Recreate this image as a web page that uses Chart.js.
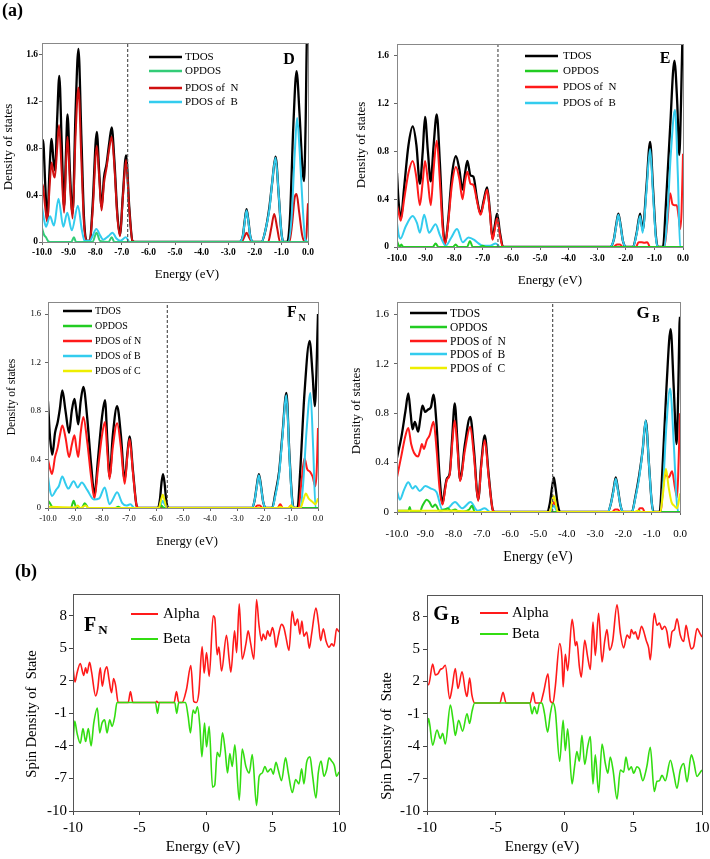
<!DOCTYPE html>
<html>
<head>
<meta charset="utf-8">
<title>DOS and spin density</title>
<script src="https://cdn.jsdelivr.net/npm/chart.js@4.4.1/dist/chart.umd.min.js"></script>
<style>
  body { margin: 0; background: #fff; }
  #wrap { position: relative; width: 710px; height: 859px; }
  #wrap canvas { position: absolute; left: 0; top: 0; }
</style>
</head>
<body>
<div id="wrap">
  <canvas id="pD" width="710" height="859"></canvas>
  <canvas id="pE" width="710" height="859"></canvas>
  <canvas id="pF" width="710" height="859"></canvas>
  <canvas id="pG" width="710" height="859"></canvas>
  <canvas id="sF" width="710" height="859"></canvas>
  <canvas id="sG" width="710" height="859"></canvas>
</div>
<script>
// tick labels
const dosEnergyTicks = [-10, -9, -8, -7, -6, -5, -4, -3, -2, -1, 0];
const dosTicks = [0, 0.4, 0.8, 1.2, 1.6];
const spinEnergyTicks = [-10, -5, 0, 5, 10];
const spinTicks = [-10, -7, -4, -1, 2, 5, 8];

// dashed reference line (eV) for each DOS panel
const fermiD = -6.78, fermiE = -6.47, fermiF = -5.58, fermiG = -4.5;

// ---- panel D : [energy, DOS]
const dTdos = [[-10,0.82],[-9.96,0.87],[-9.88,0.5],[-9.8,0.18],[-9.72,0.6],[-9.64,0.88],[-9.57,0.7],[-9.51,0.61],[-9.43,1.05],[-9.35,1.42],[-9.26,0.85],[-9.17,0.3],[-9.1,0.75],[-9.04,1.09],[-8.95,0.6],[-8.85,0.24],[-8.74,1.1],[-8.63,1.65],[-8.52,0.9],[-8.42,0.2],[-8.32,0.01],[-8.2,0.01],[-8.1,0.3],[-7.94,0.94],[-7.85,0.6],[-7.76,0.3],[-7.67,0.55],[-7.57,0.67],[-7.47,0.85],[-7.38,0.98],[-7.28,0.7],[-7.17,0.25],[-7.07,0.06],[-6.96,0.4],[-6.84,0.74],[-6.72,0.3],[-6.6,0.01],[-6.5,0],[-2.6,0],[-2.45,0.05],[-2.38,0.18],[-2.31,0.28],[-2.24,0.18],[-2.17,0.05],[-2.05,0],[-1.75,0],[-1.6,0.1],[-1.45,0.3],[-1.35,0.5],[-1.22,0.73],[-1.1,0.4],[-1.0,0.08],[-0.92,0],[-0.78,0],[-0.68,0.2],[-0.55,1.0],[-0.43,1.46],[-0.32,1.1],[-0.2,0.6],[-0.15,0.52],[-0.09,1.0],[-0.04,1.75],[0,1.8]];
const dOpdos = [[-10,0.12],[-9.92,0.06],[-9.85,0.04],[-9.78,0.01],[-9.7,0],[-8.9,0],[-8.8,0.04],[-8.72,0],[-8.1,0],[-7.95,0.08],[-7.82,0.01],[-7.5,0],[-7.38,0.04],[-7.28,0],[0,0]];
const dPdosN = [[-10,0.5],[-9.96,0.47],[-9.88,0.3],[-9.8,0.17],[-9.72,0.45],[-9.64,0.68],[-9.57,0.58],[-9.52,0.55],[-9.43,0.8],[-9.36,1.0],[-9.26,0.6],[-9.17,0.25],[-9.1,0.65],[-9.04,0.9],[-8.95,0.5],[-8.85,0.2],[-8.74,0.9],[-8.63,1.32],[-8.52,0.7],[-8.42,0.15],[-8.33,0.01],[-8.2,0.01],[-8.1,0.25],[-7.94,0.82],[-7.85,0.55],[-7.76,0.27],[-7.67,0.5],[-7.57,0.64],[-7.47,0.8],[-7.38,0.9],[-7.28,0.65],[-7.17,0.22],[-7.07,0.05],[-6.96,0.38],[-6.84,0.7],[-6.72,0.28],[-6.6,0.01],[-6.5,0],[-2.5,0],[-2.4,0.04],[-2.31,0.08],[-2.22,0.04],[-2.1,0],[-1.5,0],[-1.38,0.12],[-1.27,0.24],[-1.16,0.12],[-1.05,0],[-0.7,0],[-0.6,0.15],[-0.5,0.38],[-0.43,0.41],[-0.33,0.25],[-0.22,0.06],[-0.12,0],[-0.06,0.05],[-0.02,0.25],[0,0.33]];
const dPdosB = [[-10,0.3],[-9.93,0.2],[-9.85,0.13],[-9.7,0.22],[-9.55,0.14],[-9.38,0.37],[-9.2,0.13],[-9.05,0.25],[-8.88,0.1],[-8.65,0.31],[-8.5,0.1],[-8.4,0.01],[-8.2,0.01],[-8.1,0.05],[-7.96,0.11],[-7.8,0.05],[-7.7,0.02],[-7.5,0.05],[-7.35,0.08],[-7.2,0.03],[-7.05,0.01],[-6.85,0.04],[-6.7,0],[-2.6,0],[-2.45,0.05],[-2.38,0.17],[-2.31,0.27],[-2.24,0.17],[-2.17,0.05],[-2.05,0],[-1.75,0],[-1.6,0.1],[-1.45,0.28],[-1.35,0.5],[-1.22,0.72],[-1.1,0.4],[-1.0,0.08],[-0.92,0],[-0.75,0],[-0.62,0.2],[-0.5,0.75],[-0.41,1.06],[-0.32,0.8],[-0.2,0.3],[-0.1,0.02],[0,0]];

// ---- panel E
const eTdos = [[-10,0.62],[-9.95,0.4],[-9.87,0.24],[-9.75,0.5],[-9.6,0.85],[-9.45,1.01],[-9.32,0.85],[-9.2,0.53],[-9.1,0.8],[-9.02,1.09],[-8.92,0.8],[-8.82,0.55],[-8.72,0.85],[-8.61,1.11],[-8.5,0.7],[-8.4,0.2],[-8.32,0.03],[-8.22,0.2],[-8.08,0.6],[-7.94,0.76],[-7.82,0.65],[-7.71,0.48],[-7.62,0.62],[-7.54,0.72],[-7.43,0.6],[-7.33,0.59],[-7.2,0.4],[-7.08,0.28],[-6.96,0.4],[-6.85,0.5],[-6.75,0.3],[-6.66,0.07],[-6.58,0.18],[-6.5,0.28],[-6.4,0.12],[-6.29,0],[-2.55,0],[-2.42,0.06],[-2.34,0.18],[-2.26,0.28],[-2.18,0.18],[-2.1,0.05],[-1.98,0],[-1.75,0],[-1.62,0.12],[-1.5,0.28],[-1.41,0.14],[-1.28,0.5],[-1.15,0.88],[-1.05,0.5],[-0.95,0.1],[-0.88,0],[-0.7,0],[-0.6,0.35],[-0.45,1.0],[-0.3,1.56],[-0.2,1.2],[-0.13,0.77],[-0.07,1.2],[-0.02,1.75],[0,1.8]];
const eOpdos = [[-10,0.05],[-9.95,0.02],[-9.9,0],[-9.85,0.02],[-9.78,0],[-8.75,0],[-8.65,0.03],[-8.55,0],[-8.05,0],[-7.95,0.02],[-7.85,0],[-7.55,0],[-7.45,0.05],[-7.35,0],[-7.1,0],[-7.0,0.01],[-6.9,0],[0,0]];
const ePdosN = [[-10,0.35],[-9.95,0.3],[-9.87,0.22],[-9.75,0.4],[-9.6,0.62],[-9.45,0.72],[-9.32,0.58],[-9.2,0.35],[-9.1,0.55],[-9.02,0.72],[-8.92,0.55],[-8.82,0.35],[-8.72,0.65],[-8.61,0.89],[-8.5,0.55],[-8.4,0.15],[-8.32,0.02],[-8.22,0.18],[-8.08,0.52],[-7.94,0.67],[-7.82,0.57],[-7.71,0.4],[-7.62,0.55],[-7.54,0.63],[-7.43,0.53],[-7.33,0.52],[-7.2,0.38],[-7.08,0.27],[-6.96,0.38],[-6.85,0.48],[-6.75,0.28],[-6.66,0.06],[-6.58,0.15],[-6.5,0.24],[-6.4,0.1],[-6.3,0],[-2.45,0],[-2.3,0.02],[-2.2,0.02],[-2.1,0],[-1.65,0],[-1.55,0.04],[-1.45,0.04],[-1.35,0.035],[-1.25,0.04],[-1.15,0],[-0.65,0],[-0.55,0.2],[-0.45,0.45],[-0.37,0.36],[-0.3,0.35],[-0.22,0.35],[-0.15,0.25],[-0.1,0.15],[-0.05,0.3],[0,0.78]];
const ePdosB = [[-10,0.2],[-9.94,0.1],[-9.88,0.07],[-9.7,0.17],[-9.45,0.26],[-9.3,0.2],[-9.2,0.12],[-9.05,0.27],[-8.88,0.12],[-8.65,0.19],[-8.5,0.1],[-8.3,0.01],[-8.1,0.08],[-7.9,0.15],[-7.7,0.04],[-7.5,0.08],[-7.3,0.06],[-7.15,0.03],[-7.0,0.01],[-6.75,0.01],[-6.55,0.03],[-6.4,0],[-2.55,0],[-2.42,0.06],[-2.34,0.17],[-2.26,0.27],[-2.18,0.17],[-2.1,0.05],[-1.98,0],[-1.75,0],[-1.62,0.11],[-1.5,0.26],[-1.41,0.12],[-1.28,0.46],[-1.15,0.82],[-1.05,0.45],[-0.95,0.08],[-0.88,0],[-0.65,0],[-0.55,0.25],[-0.42,0.8],[-0.28,1.15],[-0.18,0.6],[-0.1,0],[0,0]];

// ---- panel F_N
const fTdos = [[-10,0.88],[-9.93,0.6],[-9.84,0.44],[-9.74,0.62],[-9.64,0.71],[-9.56,0.82],[-9.47,0.97],[-9.35,0.8],[-9.22,0.62],[-9.12,0.8],[-9.02,0.9],[-8.95,0.8],[-8.88,0.69],[-8.79,0.88],[-8.69,1.0],[-8.55,0.75],[-8.4,0.35],[-8.28,0.11],[-8.15,0.4],[-8.0,0.75],[-7.89,0.89],[-7.8,0.55],[-7.72,0.26],[-7.6,0.6],[-7.44,0.84],[-7.3,0.6],[-7.16,0.23],[-7.06,0.45],[-6.98,0.59],[-6.85,0.3],[-6.72,0.02],[-6.65,0],[-5.95,0],[-5.85,0.08],[-5.8,0.2],[-5.74,0.28],[-5.68,0.2],[-5.62,0.06],[-5.52,0],[-2.45,0],[-2.35,0.06],[-2.27,0.18],[-2.19,0.28],[-2.11,0.18],[-2.03,0.05],[-1.92,0],[-1.7,0],[-1.58,0.12],[-1.44,0.3],[-1.32,0.6],[-1.17,0.95],[-1.06,0.45],[-0.96,0.08],[-0.9,0],[-0.76,0],[-0.66,0.3],[-0.5,0.95],[-0.31,1.38],[-0.2,1.1],[-0.12,0.84],[-0.06,1.1],[-0.02,1.45],[0,1.6]];
const fOpdos = [[-10,0.06],[-9.93,0.04],[-9.85,0.01],[-9.78,0],[-9.15,0],[-9.05,0.06],[-8.95,0],[-8.75,0],[-8.64,0.04],[-8.5,0],[-7.5,0],[-7.4,0.01],[-7.3,0],[-5.9,0],[-5.8,0.02],[-5.7,0],[0,0]];
const fPdosN = [[-10,0.4],[-9.93,0.33],[-9.85,0.28],[-9.74,0.42],[-9.64,0.5],[-9.56,0.6],[-9.47,0.68],[-9.35,0.58],[-9.22,0.42],[-9.12,0.52],[-9.02,0.6],[-8.95,0.5],[-8.88,0.42],[-8.79,0.62],[-8.69,0.75],[-8.55,0.55],[-8.4,0.25],[-8.28,0.08],[-8.15,0.32],[-8.0,0.6],[-7.89,0.71],[-7.8,0.45],[-7.72,0.24],[-7.6,0.5],[-7.44,0.7],[-7.3,0.5],[-7.16,0.2],[-7.06,0.43],[-6.98,0.57],[-6.85,0.28],[-6.72,0.02],[-6.65,0],[-2.35,0],[-2.25,0.02],[-2.15,0.02],[-2.05,0],[-1.5,0],[-1.4,0.03],[-1.3,0],[-1.1,0],[-1.0,0.02],[-0.9,0],[-0.72,0],[-0.62,0.2],[-0.5,0.41],[-0.4,0.32],[-0.3,0.3],[-0.2,0.26],[-0.1,0.18],[-0.05,0.3],[0,0.66]];
const fPdosB = [[-10,0.26],[-9.93,0.15],[-9.85,0.1],[-9.7,0.15],[-9.6,0.18],[-9.47,0.26],[-9.35,0.2],[-9.25,0.16],[-9.05,0.22],[-8.9,0.17],[-8.75,0.21],[-8.55,0.15],[-8.3,0.07],[-8.1,0.08],[-7.9,0.17],[-7.72,0.03],[-7.6,0.07],[-7.44,0.13],[-7.25,0.04],[-7.1,0.02],[-6.95,0.03],[-6.8,0],[-5.9,0],[-5.8,0.04],[-5.75,0.06],[-5.68,0.03],[-5.6,0],[-2.45,0],[-2.35,0.06],[-2.27,0.17],[-2.19,0.27],[-2.11,0.17],[-2.03,0.05],[-1.92,0],[-1.7,0],[-1.58,0.1],[-1.44,0.28],[-1.32,0.58],[-1.17,0.93],[-1.06,0.43],[-0.96,0.06],[-0.9,0],[-0.65,0],[-0.55,0.2],[-0.42,0.65],[-0.28,0.95],[-0.18,0.5],[-0.09,0],[0,0]];
const fPdosC = [[-10,0.01],[-9,0.005],[-8.9,0.02],[-8.8,0],[-8.6,0.02],[-8.5,0],[-5.9,0],[-5.82,0.06],[-5.75,0.11],[-5.68,0.06],[-5.6,0],[-1.5,0],[-1.4,0.01],[-1.3,0],[-1.1,0],[-1.0,0.02],[-0.9,0],[-0.65,0],[-0.55,0.06],[-0.45,0.12],[-0.35,0.08],[-0.2,0.05],[-0.1,0.03],[0,0.08]];

// ---- panel G_B
const gTdos = [[-10,0.44],[-9.85,0.6],[-9.7,0.82],[-9.6,0.96],[-9.52,0.8],[-9.45,0.67],[-9.37,0.73],[-9.25,0.65],[-9.18,0.75],[-9.1,0.86],[-9.0,0.81],[-8.9,0.83],[-8.8,0.85],[-8.71,0.95],[-8.6,0.7],[-8.5,0.3],[-8.39,0.07],[-8.3,0.2],[-8.24,0.27],[-8.14,0.31],[-8.05,0.6],[-7.96,0.88],[-7.86,0.55],[-7.77,0.26],[-7.6,0.55],[-7.41,0.77],[-7.28,0.5],[-7.13,0.1],[-7.02,0.4],[-6.9,0.62],[-6.76,0.3],[-6.62,0.02],[-6.55,0],[-4.7,0],[-4.6,0.07],[-4.52,0.2],[-4.46,0.28],[-4.4,0.2],[-4.32,0.06],[-4.22,0],[-2.55,0],[-2.45,0.06],[-2.35,0.18],[-2.27,0.28],[-2.19,0.18],[-2.1,0.05],[-2.0,0],[-1.7,0],[-1.58,0.12],[-1.44,0.3],[-1.32,0.5],[-1.21,0.74],[-1.1,0.4],[-1.0,0.08],[-0.93,0],[-0.72,0],[-0.62,0.35],[-0.48,1.0],[-0.33,1.48],[-0.22,1.0],[-0.12,0.55],[-0.06,1.0],[-0.02,1.5],[0,1.58]];
const gOpdos = [[-10,0.01],[-9.6,0.01],[-9.55,0.04],[-9.5,0],[-9.2,0],[-9.1,0.05],[-8.95,0.1],[-8.85,0.08],[-8.75,0.04],[-8.65,0.06],[-8.5,0.01],[-8.3,0.02],[-8.2,0.03],[-8.1,0.01],[-7.95,0.02],[-7.8,0],[-7.45,0.02],[-7.35,0.05],[-7.25,0],[-1.5,0],[-1.45,0.01],[-1.4,0],[0,0]];
const gPdosN = [[-10,0.28],[-9.85,0.45],[-9.7,0.62],[-9.6,0.68],[-9.5,0.55],[-9.4,0.48],[-9.25,0.45],[-9.18,0.5],[-9.12,0.55],[-9.05,0.51],[-8.95,0.58],[-8.85,0.62],[-8.71,0.73],[-8.6,0.5],[-8.5,0.2],[-8.39,0.06],[-8.3,0.18],[-8.24,0.26],[-8.14,0.3],[-8.05,0.55],[-7.96,0.74],[-7.86,0.5],[-7.77,0.25],[-7.6,0.5],[-7.41,0.69],[-7.28,0.45],[-7.13,0.09],[-7.02,0.38],[-6.9,0.58],[-6.76,0.28],[-6.62,0.02],[-6.55,0],[-4.6,0],[-4.52,0.05],[-4.46,0.08],[-4.4,0.05],[-4.32,0],[-2.4,0],[-2.3,0.02],[-2.2,0.02],[-2.1,0],[-1.5,0],[-1.42,0.03],[-1.32,0.03],[-1.25,0],[-0.68,0],[-0.6,0.2],[-0.5,0.3],[-0.4,0.28],[-0.28,0.33],[-0.18,0.2],[-0.1,0.12],[-0.05,0.4],[0,0.8]];
const gPdosB = [[-10,0.17],[-9.9,0.1],[-9.75,0.18],[-9.6,0.24],[-9.45,0.19],[-9.35,0.21],[-9.2,0.17],[-9.0,0.21],[-8.8,0.19],[-8.6,0.16],[-8.4,0.02],[-8.2,0.03],[-7.95,0.08],[-7.7,0.03],[-7.4,0.08],[-7.15,0.01],[-6.9,0.03],[-6.7,0],[-4.6,0],[-4.5,0.04],[-4.45,0.05],[-4.38,0.02],[-4.3,0],[-2.55,0],[-2.45,0.06],[-2.35,0.17],[-2.27,0.27],[-2.19,0.17],[-2.1,0.05],[-2.0,0],[-1.7,0],[-1.58,0.11],[-1.44,0.28],[-1.32,0.5],[-1.21,0.74],[-1.1,0.4],[-1.0,0.08],[-0.93,0],[-0.7,0],[-0.6,0.2],[-0.48,0.7],[-0.35,1.0],[-0.22,0.55],[-0.12,0.1],[-0.06,0],[0,0]];
const gPdosC = [[-10,0.01],[-8.0,0.01],[-7.0,0],[-4.6,0],[-4.52,0.08],[-4.46,0.13],[-4.4,0.08],[-4.32,0],[-1.6,0],[-1.5,0.01],[-1.4,0],[-0.7,0],[-0.6,0.15],[-0.5,0.35],[-0.4,0.2],[-0.3,0.08],[-0.2,0.05],[-0.1,0.03],[0,0.15]];

// ---- spin density (b)
const fnAlpha = [[-10,3.2],[-9.85,1.9],[-9.7,2.7],[-9.45,3.6],[-9.2,2.5],[-9.05,3.2],[-8.95,2.7],[-8.75,3.7],[-8.6,2.8],[-8.3,0.6],[-8.15,1.2],[-7.95,3.2],[-7.8,1.5],[-7.6,2.9],[-7.45,3.3],[-7.3,2.2],[-7.1,0.9],[-6.95,2.2],[-6.8,1.6],[-6.6,0],[-5.85,0],[-5.68,1.0],[-5.5,0],[-3.8,0],[-3.7,0.1],[-3.6,0],[-2.4,0],[-2.22,1.0],[-2.05,0],[-1.8,0],[-1.47,1.2],[-1.14,3.4],[-0.92,0.1],[-0.72,0],[-0.54,0.9],[-0.29,5.15],[-0.14,2.7],[0.04,4.6],[0.24,2.4],[0.54,8.0],[0.66,7.8],[0.84,4.4],[0.97,5.1],[1.17,2.9],[1.54,6.2],[1.74,4.0],[1.87,2.8],[2.15,6.6],[2.3,4.6],[2.5,9.1],[2.72,4.0],[3.0,5.4],[3.17,6.6],[3.35,5.5],[3.6,4.0],[3.8,9.5],[3.98,7.2],[4.18,5.7],[4.3,6.3],[4.48,5.8],[4.63,6.6],[4.8,6.1],[5.0,6.9],[5.13,6.3],[5.26,5.1],[5.43,6.1],[5.68,7.2],[5.86,6.9],[6.0,6.1],[6.24,4.8],[6.48,8.4],[6.69,7.1],[6.89,7.7],[7.06,6.3],[7.21,7.5],[7.36,6.1],[7.57,6.5],[7.77,5.0],[7.94,6.3],[8.27,8.7],[8.47,7.2],[8.62,5.7],[8.82,6.8],[9.02,5.7],[9.25,5.1],[9.45,5.4],[9.62,5.2],[9.82,6.8],[10,6.5]];
const fnBeta = [[-10,-3.8],[-9.87,-1.7],[-9.7,-2.8],[-9.45,-3.75],[-9.25,-2.4],[-9.05,-3.6],[-8.85,-2.4],[-8.64,-4.0],[-8.44,-1.9],[-8.17,-0.5],[-7.99,-2.8],[-7.82,-1.9],[-7.62,-1.6],[-7.44,-2.8],[-7.24,-1.6],[-7.06,-2.2],[-6.86,-1.3],[-6.69,0],[-3.8,0],[-3.65,-1.0],[-3.5,0],[-2.35,0],[-2.2,-1.0],[-2.05,0],[-1.54,0],[-1.34,-1.3],[-1.17,-2.8],[-0.97,-0.7],[-0.82,-1.0],[-0.64,-0.4],[-0.46,-2.2],[-0.31,-5.0],[-0.11,-1.9],[0.04,-4.1],[0.24,-2.2],[0.49,-7.8],[0.66,-7.6],[0.84,-4.6],[1.04,-5.0],[1.24,-2.8],[1.44,-4.4],[1.62,-6.5],[1.79,-4.7],[1.97,-5.9],[2.17,-3.9],[2.5,-9.0],[2.72,-4.3],[3.0,-5.9],[3.25,-6.5],[3.48,-4.8],[3.8,-9.5],[4.0,-6.8],[4.23,-6.5],[4.43,-5.9],[4.63,-6.4],[4.88,-6.1],[5.06,-6.6],[5.26,-5.5],[5.43,-6.2],[5.68,-7.2],[5.98,-5.1],[6.19,-6.5],[6.49,-8.3],[6.74,-7.1],[6.99,-7.5],[7.19,-6.1],[7.36,-7.5],[7.57,-5.5],[7.82,-5.0],[7.99,-6.5],[8.27,-8.8],[8.44,-6.5],[8.65,-5.4],[8.87,-6.8],[9.07,-6.2],[9.25,-5.1],[9.45,-5.4],[9.65,-5.8],[9.82,-6.8],[10,-6.4]];
const gbAlpha = [[-10,1.8],[-9.88,1.7],[-9.59,3.6],[-9.39,2.6],[-9.2,2.7],[-9.03,3.1],[-8.86,3.2],[-8.67,3.5],[-8.35,0.4],[-8.18,1.35],[-7.94,3.2],[-7.75,1.35],[-7.45,2.9],[-7.21,1.1],[-7.09,0.6],[-6.9,2.3],[-6.73,0.7],[-6.53,0],[-4.7,0],[-4.47,1.0],[-4.25,0],[-2.5,0],[-2.29,1.0],[-2.12,0],[-1.76,0],[-1.52,1.0],[-1.2,2.7],[-1.03,0.2],[-0.84,0],[-0.67,1.5],[-0.35,5.5],[-0.18,4.0],[-0.1,1.5],[0.06,4.5],[0.23,3.0],[0.55,7.75],[0.67,6.8],[0.79,5.3],[0.9,5.7],[1.08,3.4],[1.22,2.4],[1.47,5.8],[1.68,4.3],[1.88,3.1],[2.07,7.5],[2.24,4.4],[2.48,8.3],[2.73,3.8],[2.92,5.7],[3.09,6.8],[3.28,4.9],[3.5,5.7],[3.82,9.1],[4.06,6.5],[4.3,5.1],[4.55,6.3],[4.75,6.0],[4.86,6.8],[5.03,6.4],[5.15,6.6],[5.35,5.9],[5.6,7.1],[5.77,6.6],[5.94,5.8],[6.12,5.1],[6.24,4.0],[6.53,8.3],[6.73,7.2],[6.9,7.4],[7.09,6.8],[7.28,7.1],[7.45,6.6],[7.64,5.1],[7.82,6.6],[8.0,6.8],[8.18,7.8],[8.42,6.3],[8.67,5.7],[8.84,7.2],[9.03,6.0],[9.22,5.0],[9.39,5.2],[9.64,6.9],[9.83,6.5],[10,6.1]];
const gbBeta = [[-10,-2.4],[-9.88,-1.45],[-9.59,-3.9],[-9.27,-2.5],[-9.03,-3.3],[-8.86,-2.8],[-8.67,-3.8],[-8.3,-0.2],[-8.1,-1.6],[-7.94,-3.0],[-7.7,-1.6],[-7.41,-2.6],[-7.09,-1.0],[-6.9,-1.9],[-6.73,-0.8],[-6.53,0],[-2.53,0],[-2.36,-1.0],[-2.19,-0.35],[-2.0,-1.0],[-1.81,0],[-1.64,0],[-1.45,-1.0],[-1.23,-2.7],[-1.03,-1.0],[-0.84,0],[-0.67,-0.7],[-0.35,-5.4],[-0.1,-1.6],[0.06,-4.4],[0.23,-2.4],[0.55,-7.5],[0.73,-5.9],[0.9,-4.5],[1.08,-5.4],[1.27,-3.0],[1.47,-5.7],[1.68,-4.1],[1.88,-3.1],[2.07,-7.5],[2.24,-4.8],[2.48,-8.3],[2.73,-3.8],[2.97,-5.6],[3.15,-6.5],[3.33,-5.0],[3.53,-6.2],[3.82,-8.9],[4.06,-6.2],[4.3,-6.4],[4.47,-5.0],[4.67,-6.2],[4.86,-5.9],[5.03,-6.5],[5.27,-5.9],[5.45,-6.1],[5.7,-7.2],[5.9,-6.4],[6.0,-5.8],[6.24,-4.1],[6.53,-8.2],[6.73,-7.25],[6.9,-7.2],[7.09,-6.7],[7.33,-7.2],[7.7,-5.3],[7.94,-6.5],[8.18,-7.9],[8.42,-6.2],[8.67,-5.6],[8.91,-7.3],[9.22,-4.8],[9.39,-5.4],[9.64,-6.8],[9.83,-6.5],[10,-6.2]];

const SERIF = "'Liberation Serif', 'Times New Roman', serif";
const BLACK = '#000000', RED = '#ff1a1a', DARKRED = '#d01010', CYAN = '#33ccee', GREEN = '#22cc22', TEAL = '#33cc77', YELLOW = '#eeee00';

const toXY = arr => arr.map(([x, y]) => ({ x, y }));
const ds = (label, pts, color, order, width) => ({
  label, data: toXY(pts), borderColor: color, borderWidth: width || 2, order, fill: false
});
const fermiSet = e => ({
  label: '', skipLegend: true, data: [{ x: e, y: 0 }, { x: e, y: 1.7 }],
  borderColor: '#555', borderWidth: 1.2, borderDash: [3, 2], order: 0, cubicInterpolationMode: 'default'
});

// text, legend and frame drawn on top of each chart
const decor = {};
Chart.register({
  id: 'decor',
  afterDraw(chart) {
    const d = decor[chart.canvas.id];
    if (!d) return;
    const ctx = chart.ctx, a = chart.chartArea;
    ctx.save();
    ctx.strokeStyle = d.frame; ctx.lineWidth = 1;
    ctx.strokeRect(Math.round(a.left) + 0.5, Math.round(a.top) + 0.5, Math.round(a.right - a.left), Math.round(a.bottom - a.top));
    ctx.fillStyle = '#000';
    ctx.textBaseline = 'middle';
    d.texts.forEach(t => {
      ctx.font = t.f + ' ' + SERIF;
      ctx.textAlign = t.align || 'center';
      ctx.save();
      ctx.translate(t.x, t.y);
      if (t.rot) ctx.rotate(-Math.PI / 2);
      ctx.fillText(t.t, 0, 0);
      ctx.restore();
    });
    const L = d.legend;
    ctx.font = L.f + ' ' + SERIF;
    ctx.textAlign = 'left';
    chart.data.datasets.filter(s => !s.skipLegend).forEach((s, i) => {
      const y = L.rows[i];
      ctx.strokeStyle = s.borderColor; ctx.lineWidth = L.w || 2.5; ctx.setLineDash([]);
      ctx.beginPath(); ctx.moveTo(L.x1, y); ctx.lineTo(L.x2, y); ctx.stroke();
      ctx.fillText(s.label, L.xt, y + 0.5);
    });
    ctx.restore();
  }
});

function makeChart(id, c) {
  const Wy = 40, Hx = 30;
  const tickFont = { family: SERIF, size: c.font.size, weight: c.font.weight || 'normal' };
  return new Chart(document.getElementById(id), {
    type: 'line',
    data: { datasets: c.datasets },
    options: {
      responsive: false, animation: false, devicePixelRatio: 1,
      layout: { padding: { left: c.box.l - Wy, top: c.box.t, right: 710 - c.box.r, bottom: 859 - c.box.b - Hx } },
      plugins: { legend: { display: false }, tooltip: { enabled: false } },
      elements: { point: { radius: 0 }, line: { cubicInterpolationMode: 'monotone' } },
      scales: {
        x: {
          type: 'linear', min: c.x.min, max: c.x.max,
          afterFit(a) { a.height = Hx; a.paddingLeft = 0; a.paddingRight = 0; },
          afterBuildTicks(a) { a.ticks = c.x.ticks.map(v => ({ value: v })); },
          ticks: { font: tickFont, color: '#000', padding: c.pad.x, maxRotation: 0, autoSkip: false, callback: c.x.fmt },
          grid: { drawOnChartArea: false, tickLength: c.tl, color: c.axis },
          border: { color: c.axis }
        },
        y: {
          min: c.y.min, max: c.y.max,
          afterFit(a) { a.width = Wy; a.paddingTop = 0; a.paddingBottom = 0; },
          afterBuildTicks(a) { a.ticks = c.y.ticks.map(v => ({ value: v })); },
          ticks: { font: tickFont, color: '#000', padding: c.pad.y, autoSkip: false, callback: c.y.fmt },
          grid: { drawOnChartArea: false, tickLength: c.tl, color: c.axis },
          border: { color: c.axis }
        }
      }
    }
  });
}

const dosX = { min: -10, max: 0, ticks: dosEnergyTicks, fmt: v => v.toFixed(1) };
const dosY = { min: 0, max: 1.7, ticks: dosTicks, fmt: v => (v === 0 ? '0' : v.toFixed(1)) };
const spinX = { min: -10, max: 10, ticks: spinEnergyTicks, fmt: v => String(v) };
const spinY = { min: -10, max: 10, ticks: spinTicks, fmt: v => String(v) };

// ---------- D
decor.pD = {
  frame: '#888',
  texts: [
    { t: '(a)', x: 2, y: 11, f: 'bold 18px', align: 'left' },
    { t: 'Density of states', x: 9, y: 147, f: '13px', rot: true },
    { t: 'Energy (eV)', x: 187, y: 275, f: '13px' },
    { t: 'D', x: 289, y: 60, f: 'bold 16px' }
  ],
  legend: { x1: 149, x2: 182, xt: 185, rows: [57, 71, 88, 102], f: '11px' }
};
makeChart('pD', {
  box: { l: 42, t: 43, r: 308, b: 242 }, x: dosX, y: dosY,
  font: { size: 9.5, weight: 'bold' }, pad: { x: 2, y: 1 }, tl: 3, axis: '#666',
  datasets: [
    ds('TDOS', dTdos, BLACK, 5, 2.3),
    ds('OPDOS', dOpdos, TEAL, 2),
    ds('PDOS of  N', dPdosN, DARKRED, 4),
    ds('PDOS of  B', dPdosB, CYAN, 3),
    fermiSet(fermiD)
  ]
});

// ---------- E
decor.pE = {
  frame: '#888',
  texts: [
    { t: 'Density of states', x: 362, y: 145, f: '13px', rot: true },
    { t: 'Energy (eV)', x: 550, y: 281, f: '13px' },
    { t: 'E', x: 665, y: 59, f: 'bold 16px' }
  ],
  legend: { x1: 525, x2: 558, xt: 563, rows: [56, 71, 87, 103], f: '11px' }
};
makeChart('pE', {
  box: { l: 397, t: 44, r: 683, b: 247 }, x: dosX, y: dosY,
  font: { size: 9.5, weight: 'bold' }, pad: { x: 2.5, y: 5 }, tl: 3, axis: '#666',
  datasets: [
    ds('TDOS', eTdos, BLACK, 5, 2.3),
    ds('OPDOS', eOpdos, GREEN, 2),
    ds('PDOS of  N', ePdosN, RED, 4),
    ds('PDOS of  B', ePdosB, CYAN, 3),
    fermiSet(fermiE)
  ]
});

// ---------- F_N
decor.pF = {
  frame: '#888',
  texts: [
    { t: 'Density of states', x: 12, y: 397, f: '11.5px', rot: true },
    { t: 'Energy (eV)', x: 187, y: 542, f: '12.5px' },
    { t: 'F', x: 292, y: 313, f: 'bold 16px' },
    { t: 'N', x: 302, y: 318, f: 'bold 10px' }
  ],
  legend: { x1: 63, x2: 92, xt: 95, rows: [311, 326, 341, 356, 371], f: '10px' }
};
makeChart('pF', {
  box: { l: 48, t: 302, r: 318, b: 508 }, x: dosX, y: dosY,
  font: { size: 8.5 }, pad: { x: 3, y: 4 }, tl: 3, axis: '#666',
  datasets: [
    ds('TDOS', fTdos, BLACK, 5, 2.3),
    ds('OPDOS', fOpdos, GREEN, 2),
    ds('PDOS of N', fPdosN, RED, 4),
    ds('PDOS of B', fPdosB, CYAN, 3),
    ds('PDOS of C', fPdosC, YELLOW, 1),
    fermiSet(fermiF)
  ]
});

// ---------- G_B
decor.pG = {
  frame: '#888',
  texts: [
    { t: 'Density of states', x: 357, y: 411, f: '13px', rot: true },
    { t: 'Energy (eV)', x: 538, y: 557, f: '14px' },
    { t: 'G', x: 643, y: 314, f: 'bold 17px' },
    { t: 'B', x: 656, y: 319, f: 'bold 11px' }
  ],
  legend: { x1: 410, x2: 447, xt: 450, rows: [313, 327, 341, 354, 368], f: '11.5px' }
};
makeChart('pG', {
  box: { l: 397, t: 302, r: 680, b: 512 }, x: dosX, y: dosY,
  font: { size: 11 }, pad: { x: 13, y: 5 }, tl: 3, axis: '#666',
  datasets: [
    ds('TDOS', gTdos, BLACK, 5, 2.3),
    ds('OPDOS', gOpdos, GREEN, 2),
    ds('PDOS of  N', gPdosN, RED, 4),
    ds('PDOS of  B', gPdosB, CYAN, 3),
    ds('PDOS of  C', gPdosC, YELLOW, 1),
    fermiSet(fermiG)
  ]
});

// ---------- spin F_N
decor.sF = {
  frame: '#555',
  texts: [
    { t: '(b)', x: 15, y: 572, f: 'bold 18px', align: 'left' },
    { t: 'Spin Density of  State', x: 32, y: 714, f: '14.5px', rot: true },
    { t: 'Energy (eV)', x: 203, y: 847, f: '15px' },
    { t: 'F', x: 90, y: 626, f: 'bold 20px' },
    { t: 'N', x: 103, y: 631, f: 'bold 13px' }
  ],
  legend: { x1: 131, x2: 158, xt: 163, rows: [614, 639], f: '15px', w: 2 }
};
makeChart('sF', {
  box: { l: 73, t: 594, r: 339, b: 811 }, x: spinX, y: spinY,
  font: { size: 15 }, pad: { x: 4, y: 2 }, tl: 4, axis: '#444',
  datasets: [
    ds('Alpha', fnAlpha, RED, 2, 1.6),
    ds('Beta', fnBeta, '#33dd11', 1, 1.6)
  ]
});

// ---------- spin G_B
decor.sG = {
  frame: '#555',
  texts: [
    { t: 'Spin Density of  State', x: 387, y: 736, f: '14.5px', rot: true },
    { t: 'Energy (eV)', x: 542, y: 847, f: '15px' },
    { t: 'G', x: 441, y: 615, f: 'bold 20px' },
    { t: 'B', x: 455, y: 621, f: 'bold 13px' }
  ],
  legend: { x1: 480, x2: 508, xt: 512, rows: [613, 634], f: '15px', w: 2 }
};
makeChart('sG', {
  box: { l: 427, t: 595, r: 702, b: 811 }, x: spinX, y: spinY,
  font: { size: 15 }, pad: { x: 4, y: 3 }, tl: 4, axis: '#444',
  datasets: [
    ds('Alpha', gbAlpha, RED, 2, 1.6),
    ds('Beta', gbBeta, '#33dd11', 1, 1.6)
  ]
});
</script>
</body>
</html>
